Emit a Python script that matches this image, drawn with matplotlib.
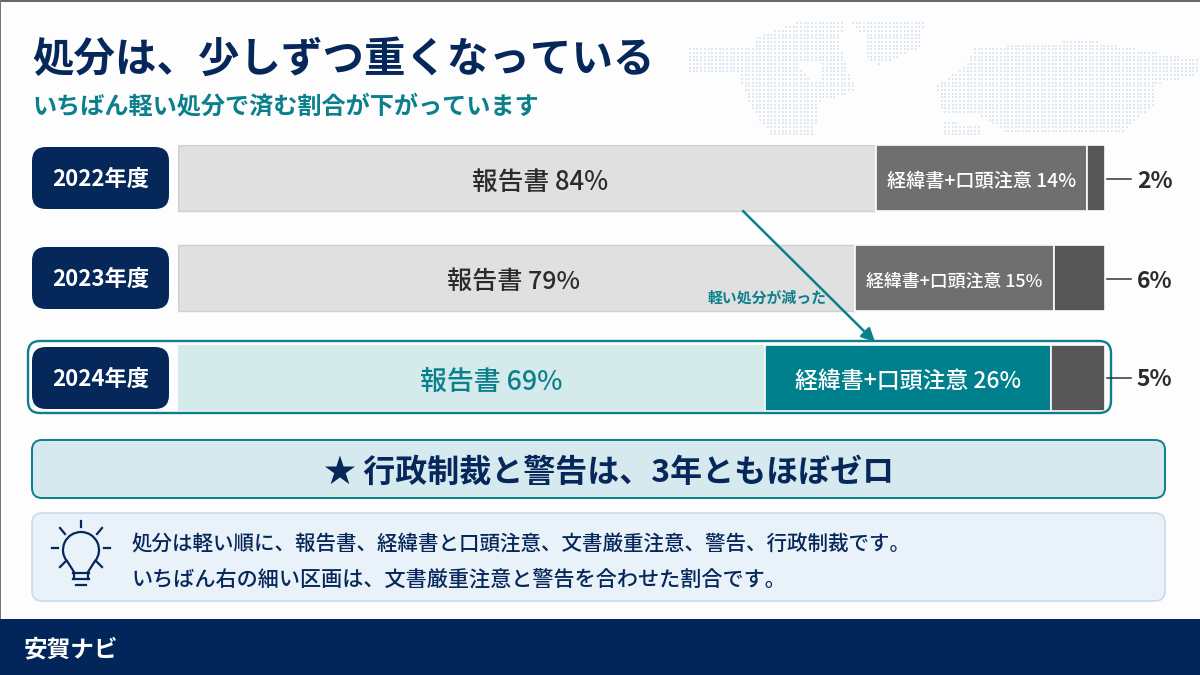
import matplotlib
matplotlib.use("Agg")
import matplotlib.pyplot as plt
import numpy as np
from matplotlib.patches import FancyBboxPatch, Rectangle, FancyArrowPatch, Arc
from matplotlib.path import Path

plt.rcParams["font.family"] = ["Noto Sans CJK JP", "DejaVu Sans"]

NAVY = "#06275a"
TEAL = "#0b808c"

YEARS = ["2022年度", "2023年度", "2024年度"]

# printed values
REPORT_PCT = [84, 79, 69]
NOTICE_PCT = [14, 15, 26]
OTHER_PCT = [2, 6, 5]

# segment lengths as drawn in the picture, they do not follow the printed values
REPORT_LEN = [75.3, 73.0, 63.3]
NOTICE_LEN = [22.8, 21.5, 30.9]
OTHER_LEN = [1.9, 5.5, 5.8]

REPORT_COLORS = ["#e0e0e0", "#e0e0e0", "#d5eaeb"]
NOTICE_COLORS = ["#6f6f6f", "#6f6f6f", "#007f8c"]
OTHER_COLORS = ["#565656", "#565656", "#565656"]
REPORT_TEXT = ["#2b2b2b", "#2b2b2b", TEAL]
REPORT_SIZE = [18.5, 18.1, 19.4]
LABEL_SIZE = [13.8, 12.9, 16.5]

# the report labels sit off centre in the original
REPORT_LABEL_X = [39.05, 36.2, 33.8]

TITLE = "処分は、少しずつ重くなっている"
SUBTITLE = "いちばん軽い処分で済む割合が下がっています"
ARROW_LABEL = "軽い処分が減った"
BAND_TEXT = "★ 行政制裁と警告は、3年ともほぼゼロ"
NOTE_LINES = [
    "処分は軽い順に、報告書、経緯書と口頭注意、文書厳重注意、警告、行政制裁です。",
    "いちばん右の細い区画は、文書厳重注意と警告を合わせた割合です。",
]
NOTE_SIZE = [14.75, 15.2]
FOOTER = "安賀ナビ"

# rough outlines of the dotted map behind the title
MAP_SHAPES = [
    [(690, 48), (753, 47), (753, 37), (807, 20), (843, 20), (840, 48), (853, 82), (853, 92),
     (820, 102), (813, 138), (773, 138), (750, 105), (737, 72), (690, 72)],
    [(850, 22), (925, 20), (920, 48), (880, 65), (865, 58), (865, 35)],
    [(973, 48), (1090, 40), (1130, 48), (1197, 60), (1197, 75), (1153, 85), (1153, 105),
     (1123, 133), (1007, 133), (980, 115), (940, 112), (937, 85), (967, 65)],
    [(943, 122), (980, 125), (980, 140), (943, 140)],
]
MAP_HOLE = [(797, 62), (823, 62), (823, 82), (807, 78)]


def rounded(ax, x0, y0, x1, y1, r, **kwargs):
    box = FancyBboxPatch(
        (x0 + r, y0 + r), x1 - x0 - 2 * r, y1 - y0 - 2 * r,
        boxstyle=f"round,pad={r},rounding_size={r}", **kwargs,
    )
    ax.add_patch(box)


def px_axes(fig, zorder):
    ax = fig.add_axes([0, 0, 1, 1], zorder=zorder)
    ax.set_xlim(0, 1200)
    ax.set_ylim(675, 0)
    ax.axis("off")
    ax.patch.set_alpha(0)
    return ax


def draw_map(ax):
    gx, gy = np.meshgrid(np.arange(690, 1198, 3.7), np.arange(16, 136, 3.7))
    points = np.column_stack([gx.ravel(), gy.ravel()])
    points = points[~Path(MAP_HOLE).contains_points(points)]
    for shape in MAP_SHAPES:
        inside = points[Path(shape).contains_points(points)]
        ax.scatter(inside[:, 0], inside[:, 1], s=2.6, marker="s", color="#dde8f3", linewidths=0)


def draw_bulb(ax):
    ax.add_patch(Arc((81, 550), 36, 36, theta1=140, theta2=400, color=NAVY, lw=1.6))
    ax.plot([67, 74, 74], [561, 572, 579], color=NAVY, lw=1.6)
    ax.plot([95, 88, 88], [561, 572, 579], color=NAVY, lw=1.6)
    for y, x0, x1 in [(573, 73, 89), (579, 73, 89), (585, 76, 86)]:
        ax.plot([x0, x1], [y, y], color=NAVY, lw=1.6)
    rays = [(81, 521, 81, 527), (60, 528, 65, 534), (102, 528, 97, 534),
            (52, 548, 58, 548), (104, 548, 110, 548), (60, 567, 65, 562), (102, 567, 97, 562)]
    for x0, y0, x1, y1 in rays:
        ax.plot([x0, x1], [y0, y1], color=NAVY, lw=1.6)


def main():
    fig = plt.figure(figsize=(12, 6.75), dpi=100, facecolor="#fdfdfe")
    base = px_axes(fig, 0)

    base.add_patch(Rectangle((0, 0), 1200, 1.5, color="#666666", lw=0))
    base.add_patch(Rectangle((0, 0), 1.2, 619, color="#777777", lw=0))
    draw_map(base)

    base.text(32, 60, TITLE, fontsize=29.85, fontweight="bold", color=NAVY, va="center")
    base.text(32, 106, SUBTITLE, fontsize=17.4, fontweight="bold", color=TEAL, va="center")

    for i, year in enumerate(YEARS):
        top = 147 + 100 * i
        rounded(base, 32, top, 169, top + 62, 14, facecolor=NAVY, edgecolor="none")
        base.text(100.5, top + 32, year, fontsize=16, fontweight="bold", color="white",
                  ha="center", va="center")

    # bars, 0-100 across the row width
    ax = fig.add_axes([178 / 1200, 1 - 411 / 675, 927 / 1200, 266 / 675], zorder=1)
    ax.patch.set_alpha(0)
    rows = np.arange(len(YEARS))
    report = np.array(REPORT_LEN)
    notice = np.array(NOTICE_LEN)
    other = np.array(OTHER_LEN)
    ax.barh(rows, report, height=0.66, color=REPORT_COLORS, edgecolor="#cfcfcf", linewidth=1)
    ax.barh(rows, notice, left=report, height=0.66, color=NOTICE_COLORS,
            edgecolor="white", linewidth=1.2)
    ax.barh(rows, other, left=report + notice, height=0.66, color=OTHER_COLORS,
            edgecolor="white", linewidth=1.2)
    ax.patches[2].set_edgecolor("none")
    ax.set_xlim(0, 100)
    ax.set_ylim(2.33, -0.33)
    ax.axis("off")

    for i in rows:
        ax.text(REPORT_LABEL_X[i], i + 0.04, f"報告書 {REPORT_PCT[i]}%", fontsize=REPORT_SIZE[i],
                fontweight=500, color=REPORT_TEXT[i], ha="center", va="center")
        ax.text(report[i] + notice[i] / 2, i + 0.03, f"経緯書+口頭注意 {NOTICE_PCT[i]}%",
                fontsize=LABEL_SIZE[i], fontweight=500,
                color="white", ha="center", va="center")

    over = px_axes(fig, 2)
    for i, pct in enumerate(OTHER_PCT):
        y = 179 + 100 * i - (1 if i == 2 else 0)
        over.plot([1107, 1131], [y, y], color="#333333", lw=1.1)
        over.text(1154.5, y + 2, f"{pct}%", fontsize=16.5, fontweight="bold", color="#2b2b2b",
                  ha="center", va="center")

    rounded(over, 28, 341, 1111, 413, 12, facecolor="none", edgecolor=TEAL, linewidth=1.7)
    over.add_patch(FancyArrowPatch((743, 211), (875, 342), arrowstyle="-|>", mutation_scale=20,
                                   color=TEAL, lw=1.8, shrinkA=0, shrinkB=0))
    over.text(767, 298, ARROW_LABEL, fontsize=10.7, fontweight="bold", color=TEAL,
              ha="center", va="center")

    rounded(base, 32, 440, 1165, 498, 10, facecolor="#d6e9ee", edgecolor=TEAL, linewidth=1.4)
    base.text(609, 473, BAND_TEXT, fontsize=23, fontweight="bold", color=NAVY,
              ha="center", va="center")

    rounded(base, 32, 513, 1165, 601, 10, facecolor="#e9f1f9", edgecolor="#c9dbec", linewidth=1.2)
    draw_bulb(base)
    base.text(132, 545, NOTE_LINES[0], fontsize=NOTE_SIZE[0], fontweight=500, color=NAVY, va="center")
    base.text(132, 581, NOTE_LINES[1], fontsize=NOTE_SIZE[1], fontweight=500, color=NAVY, va="center")

    base.add_patch(Rectangle((0, 619), 1200, 56, color="#03265a", lw=0))
    base.text(24, 649, FOOTER, fontsize=17, fontweight="bold", color="white", va="center")

    fig.savefig("out.png", dpi=100, facecolor=fig.get_facecolor())
    plt.close(fig)


if __name__ == "__main__":
    main()
